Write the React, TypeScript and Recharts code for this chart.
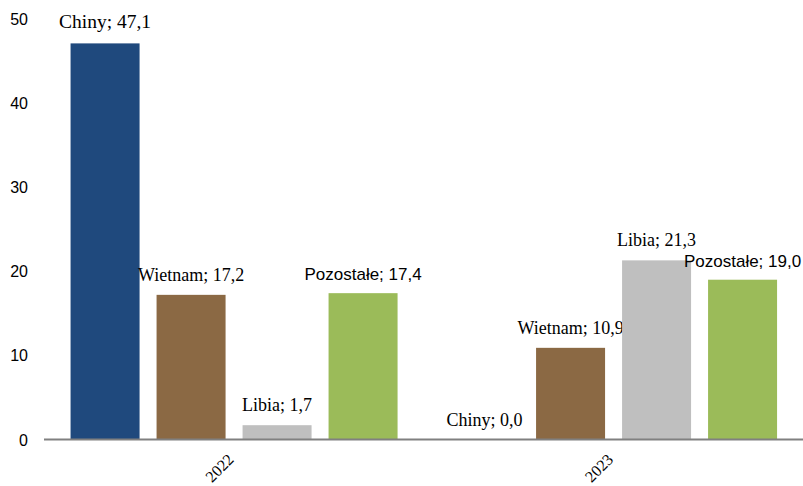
import React from "react"
import { BarChart, Bar, XAxis, YAxis } from "recharts"

const years = ["2022", "2023"]
const chiny = [47.1, 0.0]
const wietnam = [17.2, 10.9]
const libia = [1.7, 21.3]
const pozostale = [17.4, 19.0]
const yTicks = [0, 10, 20, 30, 40, 50]

const data = years.map((year, i) => ({
  year,
  Chiny: chiny[i],
  Wietnam: wietnam[i],
  Libia: libia[i],
  Pozostałe: pozostale[i],
}))

const SERIF = "Liberation Serif, Times New Roman, serif"
const SANS = "Liberation Sans, Arial, sans-serif"

// label font size per year (the 2022 Chiny label is a bit larger in the source)
const series = [
  { key: "Chiny", color: "#1F497D", font: SERIF, sizes: [19.5, 18] },
  { key: "Wietnam", color: "#8B6944", font: SERIF, sizes: [18, 18] },
  { key: "Libia", color: "#BFBFBF", font: SERIF, sizes: [18, 18] },
  { key: "Pozostałe", color: "#9BBB59", font: SANS, sizes: [17, 17] },
]

const fmt = (v: number) => v.toFixed(1).replace(".", ",")

// bar rect plus its "Name; value" label, so zero bars still get a label
const makeShape = (name: string, color: string, font: string, sizes: number[]) => (props: any) => {
  const { x, y, width, height, value, index } = props
  const v = Array.isArray(value) ? value[1] - value[0] : value
  const top = height >= 0 ? y : y + height
  const size = sizes[index] ?? 18
  return (
    <g>
      {Math.abs(height) > 0 && <rect x={x} y={top} width={width} height={Math.abs(height)} fill={color} />}
      <text
        x={x + width / 2}
        y={top - 14 - (size - 18)}
        textAnchor="middle"
        style={{ fontFamily: font, fontSize: size }}
        fill="#000"
      >
        {`${name}; ${fmt(v)}`}
      </text>
    </g>
  )
}

const YTick = (props: any) => {
  const { y, payload } = props
  return (
    <text x={28} y={y + 6} textAnchor="end" style={{ fontFamily: SANS, fontSize: 16 }} fill="#000">
      {payload.value}
    </text>
  )
}

const XTick = (props: any) => {
  const { x, y, payload } = props
  return (
    <g transform={`translate(${x + 1},${y + 13})`}>
      <text textAnchor="end" transform="rotate(-45)" style={{ fontFamily: SERIF, fontSize: 16 }} fill="#000">
        {payload.value}
      </text>
    </g>
  )
}

export default function App() {
  return (
    <div style={{ position: "absolute", left: 0, top: 0, background: "#fff" }}>
      <BarChart
        width={803}
        height={486}
        data={data}
        margin={{ top: 19, right: 0, left: 0, bottom: 0 }}
        barCategoryGap="7%"
        barGap={17}
      >
        <XAxis
          dataKey="year"
          axisLine={{ stroke: "#808080", strokeWidth: 2 }}
          tickLine={false}
          height={46.5}
          tick={<XTick />}
          interval={0}
        />
        <YAxis
          width={44}
          domain={[0, 50]}
          ticks={yTicks}
          axisLine={false}
          tickLine={false}
          tick={<YTick />}
        />
        {series.map((s) => (
          <Bar
            key={s.key}
            dataKey={s.key}
            fill={s.color}
            isAnimationActive={false}
            shape={makeShape(s.key, s.color, s.font, s.sizes)}
          />
        ))}
      </BarChart>
    </div>
  )
}
